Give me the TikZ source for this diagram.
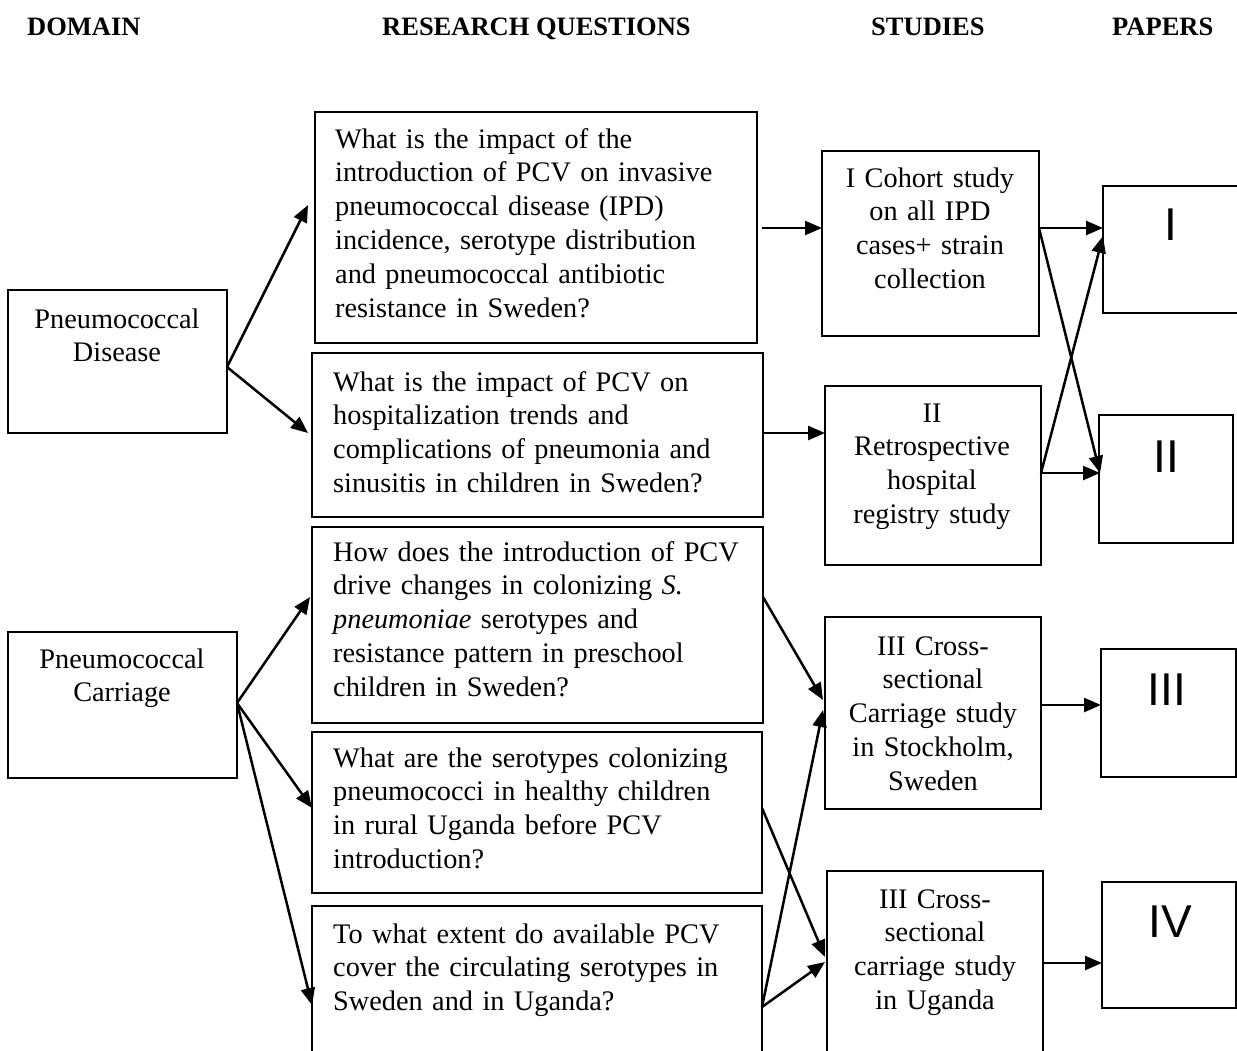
\documentclass[tikz,border=0pt]{standalone}
\usepackage{fontspec}
\setmainfont{Liberation Serif}
\newfontfamily\sansf{Liberation Sans}
\usetikzlibrary{arrows.meta}
\begin{document}
\begin{tikzpicture}[x=1pt,y=-1pt,
  box/.style={draw, line width=1.3pt, inner sep=0pt, outer sep=0pt, anchor=north west},
  arr/.style={line width=2.5pt, -{Triangle[length=17pt,width=14pt]}},
  rqtext/.style={font=\fontsize{28.3}{33.8}\selectfont, text width=430pt, align=left, inner sep=0pt, anchor=base west},
  cbox/.style={font=\fontsize{28.3}{33.8}\selectfont, align=center, inner sep=0pt, anchor=base},
  head/.style={font=\bfseries\fontsize{26.5}{30}\selectfont, inner sep=0pt, anchor=base west},
  paper/.style={font=\sansf\fontsize{46}{50}\selectfont, inner sep=0pt, anchor=base}]
\useasboundingbox (0,0) rectangle (1237,1050);
\clip (0,0) rectangle (1237,1050);
\fill[white] (0,0) rectangle (1237,1050);

% headers
\node[head] (hdom) at (27,35) {DOMAIN};
\node[head] (hrq) at (382,35) {RESEARCH QUESTIONS};
\node[head] (hst) at (871,35) {STUDIES};
\node[head] (hpa) at (1112,35) {PAPERS};

% domain boxes
\node[box, minimum width=219pt, minimum height=143pt] (pd) at (8,290) {};
\node[box, minimum width=229pt, minimum height=146pt] (pc) at (8,632) {};
\node[cbox, text width=219pt] (pdt) at (117,328) {Pneumococcal\\Disease};
\node[cbox, text width=229pt] (pct) at (122,668) {Pneumococcal\\Carriage};

% research question boxes
\node[box, minimum width=442pt, minimum height=231pt] (rq1) at (315,112) {};
\node[box, minimum width=451pt, minimum height=164pt] (rq2) at (312,353) {};
\node[box, minimum width=451pt, minimum height=196pt] (rq3) at (312,527) {};
\node[box, minimum width=450pt, minimum height=161pt] (rq4) at (312,732) {};
\node[box, minimum width=450pt, minimum height=170pt] (rq5) at (312,906) {};

\node[rqtext] (rq1t) at (335,148) {What is the impact of the\\introduction of PCV on invasive\\pneumococcal disease (IPD)\\incidence, serotype distribution\\and pneumococcal antibiotic\\resistance in Sweden?};
\node[rqtext] (rq2t) at (333,391) {What is the impact of PCV on\\hospitalization trends and\\complications of pneumonia and\\sinusitis in children in Sweden?};
\node[rqtext] (rq3t) at (333,561) {How does the introduction of PCV\\drive changes in colonizing \textit{S.}\\\textit{pneumoniae} serotypes and\\resistance pattern in preschool\\children in Sweden?};
\node[rqtext] (rq4t) at (333,767) {What are the serotypes colonizing\\pneumococci in healthy children\\in rural Uganda before PCV\\introduction?};
\node[rqtext] (rq5t) at (333,943) {To what extent do available PCV\\cover the circulating serotypes in\\Sweden and in Uganda?};

% study boxes
\node[box, minimum width=217pt, minimum height=185pt] (s1) at (822,151) {};
\node[box, minimum width=216pt, minimum height=179pt] (s2) at (825,386) {};
\node[box, minimum width=216pt, minimum height=192pt] (s3) at (825,617) {};
\node[box, minimum width=216pt, minimum height=210pt] (s4) at (827,871) {};

\node[cbox, text width=216pt] (s1t) at (930,187) {I Cohort study\\on all IPD\\cases+ strain\\collection};
\node[cbox, text width=216pt] (s2t) at (932,422) {II\\Retrospective\\hospital\\registry study};
\node[cbox, text width=216pt] (s3t) at (933,655) {III Cross-\\sectional\\Carriage study\\in Stockholm,\\Sweden};
\node[cbox, text width=216pt] (s4t) at (935,908) {III Cross-\\sectional\\carriage study\\in Uganda};

% paper boxes
\node[box, minimum width=150pt, minimum height=127pt] (p1) at (1103,186) {};
\node[box, minimum width=134pt, minimum height=128pt] (p2) at (1099,415) {};
\node[box, minimum width=135pt, minimum height=128pt] (p3) at (1101,649) {};
\node[box, minimum width=134pt, minimum height=126pt] (p4) at (1102,882) {};

\node[paper] (p1t) at (1171,240) {I};
\node[paper] (p2t) at (1166,472) {II};
\node[paper] (p3t) at (1167,705) {III};
\node[paper] (p4t) at (1170,937) {IV};

% connectors
\draw[arr] (pd.east |- 0,367) -- ([xshift=-7pt]rq1.west |- 0,205);
\draw[arr] (pd.east |- 0,367) -- ([xshift=-4pt]rq2.west |- 0,433);
\draw[arr] ([xshift=5pt]rq1.east |- 0,228) -- (s1.west |- 0,228);
\draw[arr] (rq2.east |- 0,433) -- (s2.west |- 0,433);
\draw[arr] (s1.east |- 0,228) -- (p1.west |- 0,228);
\draw[arr] (s1.east |- 0,228) -- ([xshift=1pt]p2.west |- 0,473);
\draw[arr] (s2.east |- 0,473) -- (p1.west |- 0,236);
\draw[arr] (s2.east |- 0,473) -- ([xshift=1pt]p2.west |- 0,473);

\draw[arr] (pc.east |- 0,703) -- ([xshift=-2pt]rq3.west |- 0,597);
\draw[arr] (pc.east |- 0,703) -- (rq4.west |- 0,808);
\draw[arr] (pc.east |- 0,703) -- (rq5.west |- 0,1005);
\draw[arr] (rq3.east |- 0,597) -- ([xshift=-2pt]s3.west |- 0,700);
\draw[arr] (rq4.east |- 0,808) -- ([xshift=-2pt]s4.west |- 0,957);
\draw[arr] (rq5.east |- 0,1007) -- ([xshift=-2pt]s3.west |- 0,710);
\draw[arr] (rq5.east |- 0,1007) -- ([xshift=-2pt]s4.west |- 0,962);
\draw[arr] (s3.east |- 0,705) -- (p3.west |- 0,705);
\draw[arr] (s4.east |- 0,963) -- (p4.west |- 0,963);
\end{tikzpicture}
\end{document}
